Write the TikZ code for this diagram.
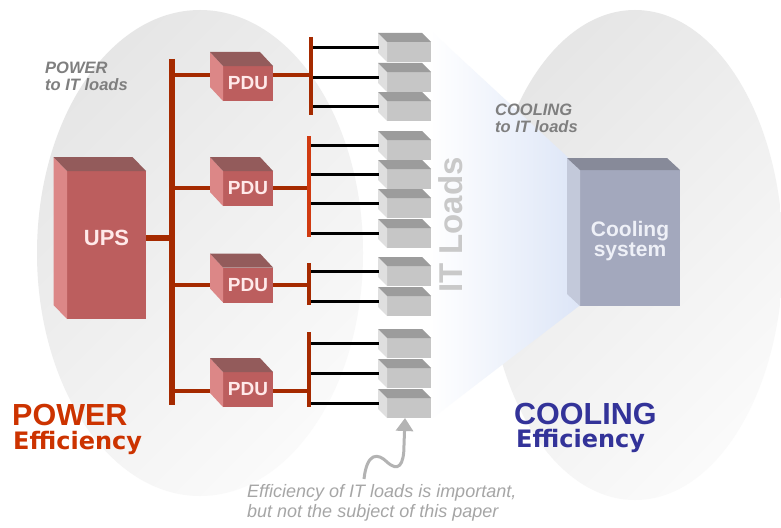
\documentclass[tikz,border=0pt]{standalone}
\usepackage{fontspec}
\setmainfont{Liberation Sans}
\newfontfamily\dejavu{DejaVu Sans}
\usetikzlibrary{arrows.meta,calc}
\definecolor{bgdark}{HTML}{E6E6E6}
\definecolor{bglight}{HTML}{FAFAFA}
\definecolor{wedgeblue}{HTML}{D8E2F6}
\definecolor{coolfrontc}{HTML}{A3A8BD}
\definecolor{coolsidec}{HTML}{C3C9DA}
\definecolor{cooltopc}{HTML}{878A99}
\definecolor{coolfg}{HTML}{EEF0F7}
\definecolor{redfrontc}{HTML}{BC5E5E}
\definecolor{redsidec}{HTML}{DC8787}
\definecolor{redtopc}{HTML}{935B5B}
\definecolor{redfg}{HTML}{FFE9E9}
\definecolor{busc}{HTML}{A52A00}
\definecolor{busbright}{HTML}{D03A10}
\definecolor{loadfrontc}{HTML}{C6C6C6}
\definecolor{loadsidec}{HTML}{DFDFDF}
\definecolor{loadtopc}{HTML}{9C9C9C}
\definecolor{itc}{HTML}{C9C9C9}
\definecolor{labelgray}{HTML}{7F7F7F}
\definecolor{annotc}{HTML}{A6A6A6}
\definecolor{arrowc}{HTML}{B3B3B3}
\definecolor{powerred}{HTML}{CC3300}
\definecolor{coolblue}{HTML}{333399}
\newcommand\boxfaces[5]{%
  \fill[#4] (#1.south west) -- (#1.north west) -- ++(-#2,-#3) -- ([shift={(-#2,-#3)}]#1.south west) -- cycle;
  \fill[#5] (#1.north west) -- ++(-#2,-#3) -- ([shift={(-#2,-#3)}]#1.north east) -- (#1.north east) -- cycle;
}
\begin{document}
\begin{tikzpicture}[x=1pt,y=-1pt,
  face/.style={rectangle, inner sep=0, outer sep=0},
  coolfront/.style={face, fill=coolfrontc, minimum width=100, minimum height=136},
  redfront/.style={face, fill=redfrontc},
  pdufront/.style={redfront, minimum width=50, minimum height=35, text=redfg, font=\bfseries\fontsize{19}{19}\selectfont},
  loadfront/.style={face, fill=loadfrontc, minimum width=44, minimum height=20},
  mainbus/.style={line width=6pt, draw=busc},
  feed/.style={line width=5.5pt, draw=busc},
  branch/.style={line width=3.5pt, draw=busc},
  subbus/.style={line width=3.5pt, draw=busc},
  wire/.style={line width=2.2pt, draw=black},
  smalllabel/.style={anchor=north west, align=left, inner sep=0, text=labelgray, font=\bfseries\itshape\fontsize{16.5}{17}\selectfont},
  bigword/.style={anchor=base west, inner sep=0, font=\bfseries\fontsize{30.5}{30.5}\selectfont},
  effword/.style={anchor=base west, inner sep=0, font=\dejavu\bfseries\fontsize{24}{24}\selectfont}
]
\useasboundingbox (0,0) rectangle (781,527);
\fill[white] (0,0) rectangle (781,527);

% background ellipses
\shade[top color=bgdark, bottom color=bglight, shading angle=45] (200,253) ellipse [x radius=163, y radius=243];
\shade[top color=bgdark, bottom color=bglight, shading angle=45] (635,255) ellipse [x radius=148, y radius=245];

% cooling wedge
\shade[left color=white, right color=wedgeblue] (430,30) -- (600,187) -- (600,290) -- (430,420) -- cycle;

% cooling system
\node[coolfront, label={[text=coolfg, align=center, font=\bfseries\fontsize{21}{20}\selectfont, yshift=-3pt]center:Cooling\\system}] (cool) at (630,238) {};
\boxfaces{cool}{13}{12}{coolsidec}{cooltopc}

% power distribution bus
\coordinate (busT) at (172,59);
\coordinate (busB) at (172,405);
\coordinate (sb1) at (311,37);  \coordinate (sbe1) at (311,115);
\coordinate (sb2) at (309,136); \coordinate (sbe2) at (309,237);
\coordinate (sb3) at (309,263); \coordinate (sbe3) at (309,305);
\coordinate (sb4) at (309,332); \coordinate (sbe4) at (309,407);

\draw[mainbus] (busT) -- (busB);
\draw[branch] (busT |- 0,75) -- (sb1 |- 0,75);
\draw[branch] (busT |- 0,188) -- (sb2 |- 0,188);
\draw[branch] (busT |- 0,285) -- (sb3 |- 0,285);
\draw[branch] (busT |- 0,391) -- ([xshift=2pt]sb4 |- 0,391);

% UPS
\node[redfront, minimum width=79, minimum height=148,
  label={[text=redfg, font=\bfseries\fontsize{22}{22}\selectfont, yshift=7pt]center:UPS}] (ups) at (106.5,245) {};
\boxfaces{ups}{13.5}{14}{redsidec}{redtopc}
\draw[feed] (ups.east |- 0,238) -- (busT |- 0,238);

% PDUs
\foreach \n/\y in {1/83.5,2/188.5,3/285,4/389.5}{
  \node[pdufront] (pdu\n) at (248,\y) {PDU};
  \boxfaces{pdu\n}{13}{14}{redsidec}{redtopc}
}

% IT loads
\foreach \n/\y/\s in {1/52/1,2/82/1,3/111/1,4/150/2,5/179/2,6/208/2,7/238/2,8/276/3,9/306/3,10/348/4,11/378/4,12/408/4}{
  \node[loadfront] (L\n) at (409,\y) {};
  \boxfaces{L\n}{9}{9}{loadsidec}{loadtopc}
  \coordinate (W\n) at ([shift={(-8,-4.5)}]L\n.west);
  \draw[wire] (sb\s |- W\n) -- (W\n);
}

\draw[subbus] (sb1) -- (sbe1);
\draw[subbus, draw=busbright] (sb2) -- (sbe2);
\draw[subbus] (sb3) -- (sbe3);
\draw[subbus] (sb4) -- (sbe4);

% IT Loads text
\node[rotate=90, inner sep=0, text=itc, font=\bfseries\fontsize{33}{33}\selectfont] (itl) at (451,225) {IT Loads};

% small labels
\node[smalllabel] (plabel) at (45,62) {POWER\\to IT loads};
\node[smalllabel] (clabel) at (495,104) {COOLING\\to IT loads};

% big labels
\node[bigword, text=powerred] (pw) at (12,425) {POWER};
\node[effword, text=powerred] (pe) at (13,449) {Efficiency};
\node[bigword, text=coolblue] (cw) at (514,424) {COOLING};
\node[effword, text=coolblue] (ce) at (516,447) {Efficiency};

% annotation
\node[anchor=north west, align=left, inner sep=0, text=annotc, font=\itshape\fontsize{18}{20.5}\selectfont] (note) at (247,484) {Efficiency of IT loads is important,\\but not the subject of this paper};
\coordinate (tail) at (364,479);
\draw[draw=arrowc, line width=3pt, -{Triangle[width=17pt,length=13pt]}]
  (tail) .. controls (367,452) and (378,453) .. (387,462)
  .. controls (398,472) and (404,466) .. (404,445) -- ([xshift=-4pt]L12.south);
\end{tikzpicture}
\end{document}
